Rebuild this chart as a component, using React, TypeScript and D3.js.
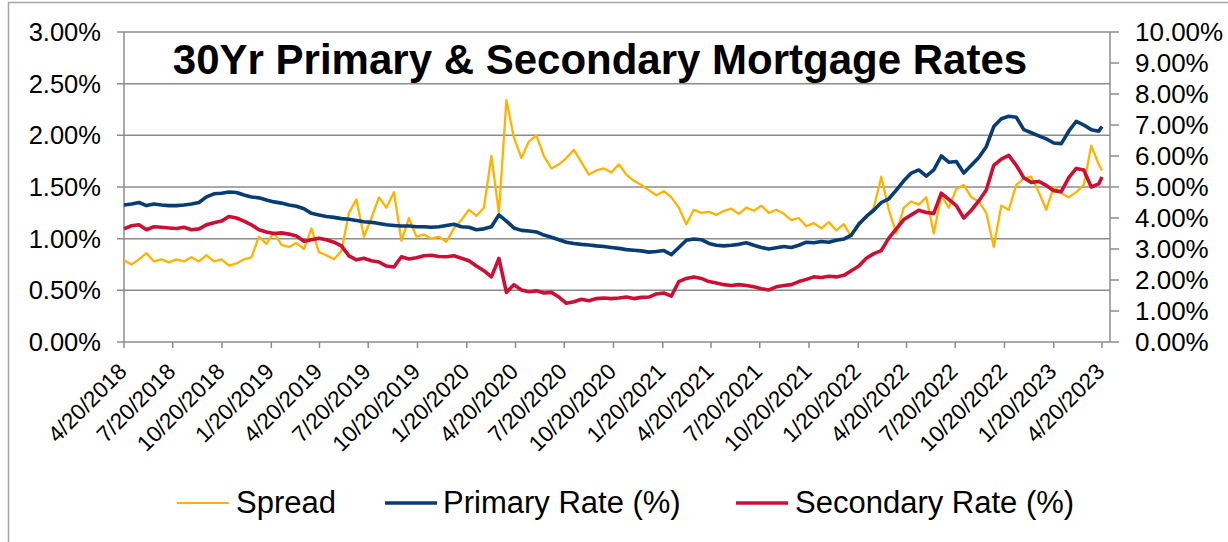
import React from 'react';
import * as d3 from 'd3';

// biweekly readings from 4/20/2018, last one on 4/20/2023
const startDate = '2018-04-20';
const endDate = '2023-04-20';
const axisEndDate = '2023-05-05';

const tickLabels = [
  '4/20/2018', '7/20/2018', '10/20/2018', '1/20/2019', '4/20/2019', '7/20/2019', '10/20/2019',
  '1/20/2020', '4/20/2020', '7/20/2020', '10/20/2020', '1/20/2021', '4/20/2021', '7/20/2021',
  '10/20/2021', '1/20/2022', '4/20/2022', '7/20/2022', '10/20/2022', '1/20/2023', '4/20/2023',
];

// left axis (%)
const spread = [
  0.79, 0.75, 0.80, 0.86, 0.78, 0.80, 0.77, 0.80, 0.78, 0.82,
  0.78, 0.84, 0.78, 0.80, 0.74, 0.76, 0.80, 0.82, 1.02, 0.95,
  1.06, 0.94, 0.92, 0.96, 0.90, 1.10, 0.87, 0.84, 0.80, 0.88,
  1.25, 1.38, 1.02, 1.20, 1.40, 1.30, 1.45, 0.98, 1.20, 1.02,
  1.04, 1.00, 1.02, 0.97, 1.10, 1.18, 1.28, 1.22, 1.30, 1.80,
  1.25, 2.34, 1.98, 1.78, 1.94, 2.00, 1.80, 1.68, 1.72, 1.78,
  1.86, 1.74, 1.62, 1.66, 1.68, 1.64, 1.72, 1.62, 1.56, 1.52,
  1.47, 1.42, 1.46, 1.40, 1.30, 1.14, 1.28, 1.25, 1.26, 1.23,
  1.27, 1.29, 1.24, 1.30, 1.27, 1.32, 1.25, 1.28, 1.24, 1.18,
  1.20, 1.12, 1.15, 1.10, 1.16, 1.08, 1.14, 1.02, 1.16, 1.20,
  1.30, 1.60, 1.28, 1.05, 1.30, 1.36, 1.33, 1.40, 1.05, 1.42,
  1.30, 1.48, 1.52, 1.40, 1.36, 1.25, 0.92, 1.32, 1.28, 1.52,
  1.58, 1.60, 1.45, 1.28, 1.50, 1.44, 1.40, 1.45, 1.52, 1.90,
  1.72, 1.66,
];

// right axis (%)
const primaryRate = [
  4.42, 4.45, 4.50, 4.40, 4.45, 4.42, 4.40, 4.40, 4.42, 4.45,
  4.50, 4.68, 4.78, 4.80, 4.84, 4.82, 4.74, 4.68, 4.65, 4.58,
  4.52, 4.48, 4.42, 4.38, 4.30, 4.15, 4.10, 4.05, 4.02, 3.98,
  3.96, 3.92, 3.88, 3.86, 3.82, 3.78, 3.76, 3.74, 3.74, 3.72,
  3.72, 3.70, 3.72, 3.76, 3.80, 3.72, 3.70, 3.62, 3.65, 3.72,
  4.10, 3.90, 3.68, 3.60, 3.58, 3.55, 3.45, 3.38, 3.30, 3.22,
  3.18, 3.15, 3.13, 3.10, 3.08, 3.05, 3.02, 2.98, 2.96, 2.94,
  2.90, 2.92, 2.95, 2.82, 3.05, 3.28, 3.32, 3.30, 3.18, 3.12,
  3.10, 3.12, 3.15, 3.20, 3.12, 3.05, 3.00, 3.04, 3.08, 3.05,
  3.12, 3.22, 3.20, 3.24, 3.22, 3.28, 3.32, 3.45, 3.80, 4.05,
  4.25, 4.50, 4.62, 4.90, 5.20, 5.45, 5.55, 5.35, 5.55, 6.00,
  5.80, 5.82, 5.45, 5.70, 5.95, 6.30, 6.95, 7.20, 7.28, 7.25,
  6.85, 6.75, 6.65, 6.55, 6.42, 6.40, 6.80, 7.12, 7.00, 6.85,
  6.80, 6.95,
];

const secondaryRate = [
  3.65, 3.75, 3.78, 3.62, 3.72, 3.70, 3.68, 3.66, 3.70, 3.62,
  3.65, 3.78, 3.85, 3.90, 4.05, 4.00, 3.90, 3.78, 3.62, 3.55,
  3.50, 3.52, 3.48, 3.42, 3.25, 3.30, 3.35, 3.30, 3.22, 3.10,
  2.78, 2.65, 2.70, 2.62, 2.58, 2.45, 2.42, 2.75, 2.68, 2.72,
  2.78, 2.80, 2.76, 2.75, 2.78, 2.70, 2.62, 2.45, 2.30, 2.10,
  2.70, 1.60, 1.85, 1.68, 1.62, 1.65, 1.58, 1.60, 1.45, 1.25,
  1.30, 1.38, 1.33, 1.40, 1.42, 1.40, 1.42, 1.45, 1.40, 1.44,
  1.45, 1.55, 1.58, 1.48, 1.95, 2.05, 2.10, 2.05, 1.95, 1.90,
  1.85, 1.82, 1.85, 1.82, 1.78, 1.72, 1.68, 1.78, 1.82, 1.85,
  1.95, 2.02, 2.10, 2.08, 2.12, 2.10, 2.15, 2.30, 2.45, 2.70,
  2.85, 2.95, 3.35, 3.65, 3.95, 4.10, 4.25, 4.18, 4.15, 4.80,
  4.60, 4.40, 4.00, 4.25, 4.55, 4.90, 5.70, 5.90, 6.02, 5.70,
  5.30, 5.15, 5.18, 5.05, 4.88, 4.85, 5.30, 5.60, 5.55, 5.00,
  5.10, 5.32,
];

const leftTicks = [0, 0.5, 1, 1.5, 2, 2.5, 3];
const rightTicks = [0, 1, 2, 3, 4, 5, 6, 7, 8, 9, 10];

const seriesNames = ['Spread', 'Primary Rate (%)', 'Secondary Rate (%)'];
const seriesColors = ['#FFB300', '#083C74', '#CD0F35'];

const W = 1228;
const H = 542;
const plot = { left: 124, right: 1110, top: 32, bottom: 342 };
const font = '"Liberation Sans", Arial, sans-serif';
const gridColor = '#8C8C8C';

const parseIso = d3.timeParse('%Y-%m-%d');
const parseTick = d3.timeParse('%m/%d/%Y');

const App = () => {
  const start = parseIso(startDate) as Date;
  const end = parseIso(endDate) as Date;

  const dates = spread.map((_, i) => {
    const d = d3.timeDay.offset(start, i * 14);
    return d > end ? end : d;
  });

  const x = d3.scaleTime()
    .domain([start, parseIso(axisEndDate) as Date])
    .range([plot.left, plot.right]);
  const yLeft = d3.scaleLinear().domain([0, 3]).range([plot.bottom, plot.top]);
  const yRight = d3.scaleLinear().domain([0, 10]).range([plot.bottom, plot.top]);

  const lineLeft = d3.line<number>()
    .x((_, i) => x(dates[i]))
    .y((d) => yLeft(d));
  const lineRight = d3.line<number>()
    .x((_, i) => x(dates[i]))
    .y((d) => yRight(d));

  const fmt = d3.format('.2f');

  const legendItems = [
    { lx: 177, tx: 236, w: 2 },
    { lx: 385, tx: 443, w: 3.5 },
    { lx: 736, tx: 795, w: 3.5 },
  ];

  return (
    <svg width={W} height={H} style={{ position: 'absolute', left: 0, top: 0, background: '#fff' }}
      fontFamily={font}>
      {/* outer frame */}
      <rect x={8.5} y={2.5} width={1300} height={700} fill="none" stroke="#A6A6A6" strokeWidth={1.5} />

      {/* gridlines from left axis */}
      {leftTicks.map((t) => (
        <line key={'g' + t} x1={plot.left - 7} x2={plot.right} y1={yLeft(t)} y2={yLeft(t)}
          stroke={gridColor} strokeWidth={1.5} />
      ))}
      {/* axis lines */}
      <line x1={plot.left} x2={plot.left} y1={plot.top} y2={plot.bottom} stroke={gridColor} strokeWidth={1.5} />
      <line x1={plot.right} x2={plot.right} y1={plot.top} y2={plot.bottom} stroke={gridColor} strokeWidth={1.5} />

      {/* left labels */}
      {leftTicks.map((t) => (
        <text key={'l' + t} x={101} y={yLeft(t)} dy="0.35em" textAnchor="end" fontSize={25.5} fill="#000">
          {fmt(t)}%
        </text>
      ))}
      {/* right ticks and labels */}
      {rightTicks.map((t) => (
        <g key={'r' + t}>
          <line x1={plot.right} x2={plot.right + 9} y1={yRight(t)} y2={yRight(t)} stroke={gridColor} strokeWidth={1.5} />
          <text x={1135} y={yRight(t)} dy="0.35em" textAnchor="start" fontSize={26} fill="#000">
            {fmt(t)}%
          </text>
        </g>
      ))}

      {/* x ticks and labels */}
      {tickLabels.map((lab) => {
        const tx = x(parseTick(lab) as Date);
        return (
          <g key={lab}>
            <line x1={tx} x2={tx} y1={plot.bottom} y2={plot.bottom + 6} stroke={gridColor} strokeWidth={1.5} />
            <text transform={`translate(${tx + 4},${plot.bottom + 31}) rotate(-45)`} textAnchor="end"
              fontSize={22.5} fill="#000">
              {lab}
            </text>
          </g>
        );
      })}

      {/* series */}
      <path d={lineLeft(spread) || ''} fill="none" stroke={seriesColors[0]} strokeWidth={2.3} strokeLinejoin="round" />
      <path d={lineRight(primaryRate) || ''} fill="none" stroke={seriesColors[1]} strokeWidth={3.6} strokeLinejoin="round" />
      <path d={lineRight(secondaryRate) || ''} fill="none" stroke={seriesColors[2]} strokeWidth={3.6} strokeLinejoin="round" />

      {/* title */}
      <text x={600} y={74} textAnchor="middle" fontSize={42} fontWeight="bold" fill="#000">
        30Yr Primary &amp; Secondary Mortgage Rates
      </text>

      {/* legend */}
      {seriesNames.map((name, i) => (
        <g key={name}>
          <line x1={legendItems[i].lx} x2={legendItems[i].lx + 52} y1={503} y2={503}
            stroke={seriesColors[i]} strokeWidth={legendItems[i].w} />
          <text x={legendItems[i].tx} y={513} fontSize={31} fill="#000">{name}</text>
        </g>
      ))}
    </svg>
  );
};

export default App;
